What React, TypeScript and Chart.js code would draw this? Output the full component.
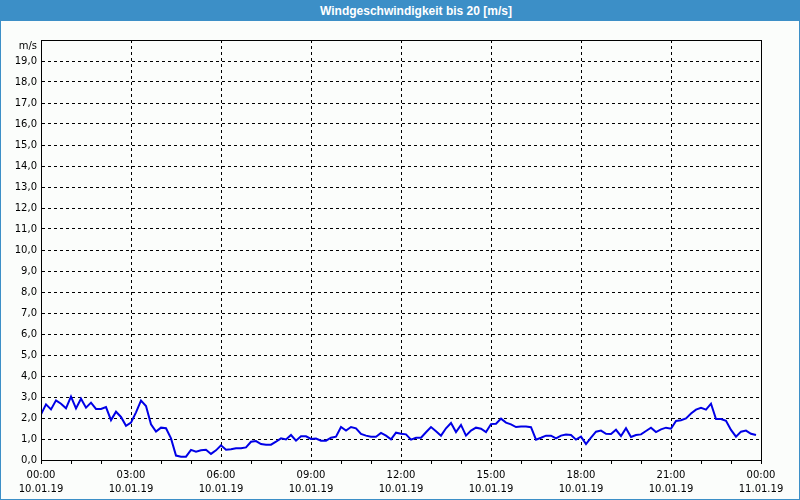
import React, { useEffect, useRef } from "react";
import { Chart, registerables } from "chart.js";

Chart.register(...registerables);

const TITLE = "Windgeschwindigkeit bis 20 [m/s]";
const UNIT = "m/s";
const STEP_MINUTES = 10;

// wind speed [m/s], 10-minute values from 00:00 to 23:50
const speed0004 = [2.17, 2.65, 2.41, 2.84, 2.68, 2.46, 3.02, 2.46, 2.92, 2.49, 2.73, 2.43, 2.43, 2.52, 1.9, 2.3, 2.05, 1.63, 1.78, 2.27, 2.83, 2.57, 1.7, 1.35, 1.54];
const speed0408 = [1.51, 1.03, 0.21, 0.16, 0.16, 0.48, 0.4, 0.46, 0.49, 0.29, 0.46, 0.7, 0.49, 0.51, 0.56, 0.56, 0.6, 0.87, 0.9, 0.76, 0.73, 0.73, 0.87, 1.03];
const speed0812 = [0.98, 1.19, 0.92, 1.13, 1.13, 1.0, 1.02, 0.92, 0.92, 1.06, 1.11, 1.57, 1.4, 1.57, 1.51, 1.24, 1.16, 1.11, 1.11, 1.29, 1.16, 0.98, 1.3, 1.25];
const speed1216 = [1.22, 0.97, 1.06, 1.06, 1.32, 1.57, 1.37, 1.16, 1.51, 1.76, 1.33, 1.67, 1.16, 1.4, 1.54, 1.49, 1.33, 1.71, 1.73, 1.97, 1.78, 1.7, 1.57, 1.6];
const speed1620 = [1.6, 1.56, 0.97, 1.06, 1.16, 1.16, 1.03, 1.16, 1.21, 1.19, 0.97, 1.11, 0.76, 1.06, 1.35, 1.4, 1.25, 1.24, 1.44, 1.14, 1.51, 1.1, 1.19, 1.22];
const speed2024 = [1.38, 1.54, 1.33, 1.46, 1.54, 1.49, 1.86, 1.89, 1.98, 2.21, 2.4, 2.49, 2.4, 2.68, 1.95, 1.95, 1.87, 1.43, 1.11, 1.35, 1.4, 1.25, 1.19];

const speeds = [...speed0004, ...speed0408, ...speed0812, ...speed1216, ...speed1620, ...speed2024];

// x-axis labels every 3 hours
const tickHours = [0, 3, 6, 9, 12, 15, 18, 21, 24];
const tickTimes = ["00:00", "03:00", "06:00", "09:00", "12:00", "15:00", "18:00", "21:00", "00:00"];
const tickDates = ["10.01.19", "10.01.19", "10.01.19", "10.01.19", "10.01.19", "10.01.19", "10.01.19", "10.01.19", "11.01.19"];

const FONT = "'DejaVu Sans', sans-serif";
const BLUE = "#3c8fc7";

const framePlugin = {
  id: "frame",
  afterDraw(chart: any) {
    const { ctx, chartArea } = chart;
    ctx.save();
    ctx.strokeStyle = "#000";
    ctx.lineWidth = 1;
    ctx.strokeRect(
      Math.round(chartArea.left) + 0.5,
      Math.round(chartArea.top) + 0.5,
      Math.round(chartArea.right - chartArea.left),
      Math.round(chartArea.bottom - chartArea.top)
    );
    ctx.restore();
  },
};

export default function App() {
  const ref = useRef<HTMLCanvasElement | null>(null);

  useEffect(() => {
    if (!ref.current) return;
    const data = speeds.map((v, i) => ({ x: (i * STEP_MINUTES) / 60, y: v }));
    const chart = new Chart(ref.current, {
      type: "line",
      data: {
        datasets: [
          {
            data,
            borderColor: "#0000e6",
            borderWidth: 2,
            pointRadius: 0,
            tension: 0,
            fill: false,
          },
        ],
      },
      options: {
        animation: false,
        responsive: false,
        maintainAspectRatio: false,
        layout: { padding: { top: 19, right: 38, left: 0, bottom: 0 } },
        plugins: { legend: { display: false }, tooltip: { enabled: false }, title: { display: false } },
        scales: {
          x: {
            type: "linear",
            min: 0,
            max: 24,
            afterFit: (s: any) => {
              s.height = 39;
            },
            ticks: {
              stepSize: 1,
              autoSkip: false,
              maxRotation: 0,
              padding: 4,
              color: "#000",
              font: { family: FONT, size: 10, lineHeight: "14px" as any },
              callback: (v: any) => {
                const idx = tickHours.indexOf(Number(v));
                return idx >= 0 ? [tickTimes[idx], tickDates[idx]] : "";
              },
            },
            grid: {
              color: (c: any) => (c.tick && c.tick.value % 3 === 0 ? "#000" : "rgba(0,0,0,0)"),
              tickColor: "#000",
              tickLength: 4,
              lineWidth: 1,
            },
            border: { color: "#000", dash: [3, 3] },
          },
          y: {
            min: 0,
            max: 20,
            afterFit: (s: any) => {
              s.width = 40;
            },
            ticks: {
              stepSize: 1,
              autoSkip: false,
              padding: 4,
              color: "#000",
              font: { family: FONT, size: 10, lineHeight: "13px" as any },
              callback: (v: any) => (Number(v) === 20 ? ["", UNIT] : Number(v).toFixed(1).replace(".", ",")),
            },
            grid: { color: "#000", drawTicks: false, lineWidth: 1 },
            border: { color: "#000", dash: [3, 3] },
          },
        },
      },
      plugins: [framePlugin],
    });
    return () => chart.destroy();
  }, []);

  return (
    <div
      style={{
        position: "fixed",
        left: 0,
        top: 0,
        width: 800,
        height: 500,
        boxSizing: "border-box",
        border: `1px solid ${BLUE}`,
        background: "#fbfdfb",
        overflow: "hidden",
      }}
    >
      <div
        style={{
          position: "absolute",
          left: 0,
          top: 0,
          width: 766,
          paddingLeft: 32,
          height: 20,
          background: BLUE,
          color: "#fff",
          fontFamily: "'Liberation Sans', Arial, sans-serif",
          fontWeight: "bold",
          fontSize: 12,
          lineHeight: "20px",
          textAlign: "center",
          whiteSpace: "nowrap",
        }}
      >
        {TITLE}
      </div>
      <div style={{ position: "absolute", left: 0, top: 20, width: 798, height: 478 }}>
        <canvas ref={ref} width={798} height={478} style={{ display: "block" }} />
      </div>
    </div>
  );
}
